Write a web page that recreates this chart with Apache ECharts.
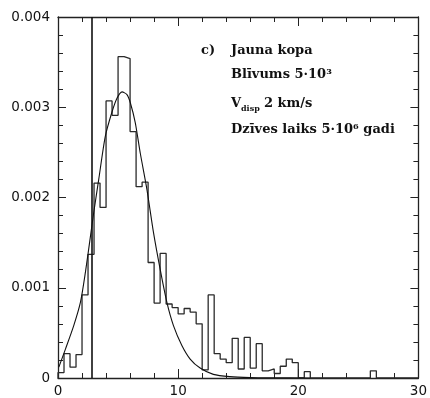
<!DOCTYPE html>
<html>
<head>
<meta charset="utf-8">
<script src="https://cdn.jsdelivr.net/npm/echarts@6/dist/echarts.min.js"></script>
<style>
  html, body { margin: 0; padding: 0; background: #fff; }
  #chart { width: 430px; height: 398px; }
</style>
</head>
<body>
<div id="chart"></div>
<script>
// histogram: bin width and heights of each bin (0 .. 30)
const binWidth = 0.5;
const binHeights = [
    0.00006, 0.00027, 0.00012, 0.00026, 0.00092, 0.00137, 0.00216, 0.00189, 0.00307, 0.00291,
    0.00356, 0.00354, 0.00273, 0.00212, 0.00217, 0.00128, 0.00083, 0.00138, 0.00082, 0.00078,
    0.00071, 0.00077, 0.00073, 0.00060, 0.00009, 0.00092, 0.00027, 0.00021, 0.00017, 0.00044,
    0.00010, 0.00045, 0.00011, 0.00038, 0.00008, 0.00010, 0.00005, 0.00013, 0.00021, 0.00017,
    0, 0.00007, 0, 0, 0, 0, 0, 0, 0, 0,
    0, 0, 0.00008, 0, 0, 0, 0, 0, 0, 0
];

// fitted curve
const curveX = [0.07, 0.62, 1.31, 1.87, 2.28, 2.70, 2.97, 3.39, 3.94, 4.5, 4.91, 5.33, 5.74, 6.02,
    6.43, 6.85, 7.40, 7.95, 8.51, 9.06, 9.61, 10.31, 11.0, 11.83, 12.93, 14.3, 16, 18, 21];
const curveY = [0.00012, 0.00032, 0.00058, 0.00084, 0.00117, 0.00157, 0.00183, 0.0022, 0.00268,
    0.00295, 0.0031, 0.00317, 0.00314, 0.00305, 0.00283, 0.00249, 0.00209, 0.00161, 0.0012,
    0.00084, 0.00058, 0.00036, 0.00021, 0.00011, 0.00004, 0.000015, 0.000005, 0.000002, 0];

// vertical line
const cutoffX = 2.8;

const xTicks = ['0', '10', '20', '30'];

let histData = [[0, 0]];
binHeights.forEach((h, i) => {
    histData.push([i * binWidth, h]);
});
histData.push([binHeights.length * binWidth, 0]);

let curveData = curveX.map((x, i) => [x, curveY[i]]);

const axisColor = '#222';
const labelFont = { fontFamily: 'DejaVu Sans', fontSize: 13.5, color: '#111' };

function xAxisOf(pos, showLabel) {
    return {
        type: 'value', position: pos, min: 0, max: 30, interval: 10,
        axisLine: { show: true, onZero: false, lineStyle: { color: axisColor, width: 1.3 } },
        axisTick: { show: true, inside: true, length: 9, lineStyle: { color: axisColor } },
        minorTick: { show: true, splitNumber: 5, length: 5, lineStyle: { color: axisColor } },
        splitLine: { show: false },
        axisLabel: Object.assign({
            show: showLabel, margin: 6,
            formatter: v => xTicks[Math.round(v / 10)]
        }, labelFont)
    };
}

function yAxisOf(pos, showLabel) {
    return {
        type: 'value', position: pos, min: 0, max: 0.004, interval: 0.001,
        axisLine: { show: true, onZero: false, lineStyle: { color: axisColor, width: 1.3 } },
        axisTick: { show: true, inside: true, length: 8, lineStyle: { color: axisColor } },
        minorTick: { show: true, splitNumber: 5, length: 5, lineStyle: { color: axisColor } },
        splitLine: { show: false },
        axisLabel: Object.assign({ show: showLabel, margin: 8 }, labelFont)
    };
}

const textFont = { fontFamily: 'DejaVu Serif', fontWeight: 'bold', fontSize: 13, fill: '#111' };
function label(x, y, text, extra) {
    return {
        type: 'text', left: x, top: y,
        style: Object.assign({ text: text }, textFont, extra || {})
    };
}

let chart = echarts.init(document.getElementById('chart'));
chart.setOption({
    animation: false,
    backgroundColor: '#fff',
    grid: { left: 58, right: 11, top: 17, bottom: 19 },
    xAxis: [xAxisOf('bottom', true), xAxisOf('top', false)],
    yAxis: [yAxisOf('left', true), yAxisOf('right', false)],
    series: [
        {
            type: 'line', step: 'end', data: histData, symbol: 'none',
            lineStyle: { color: '#2a2a2a', width: 1.3 },
            markLine: {
                silent: true, symbol: 'none',
                label: { show: false },
                lineStyle: { color: '#111', width: 1.6, type: 'solid' },
                data: [{ xAxis: cutoffX }]
            }
        },
        {
            type: 'line', data: curveData, symbol: 'none', smooth: 0.25,
            lineStyle: { color: '#111', width: 1.1 }
        }
    ],
    graphic: [
        label(201, 44, 'c)'),
        label(231, 44, 'Jauna kopa'),
        label(231, 68, 'Blīvums 5·10³'),
        label(231, 97, 'V'),
        label(241, 105, 'disp', { fontSize: 8 }),
        label(264, 97, '2 km/s'),
        label(231, 123, 'Dzīves laiks 5·10⁶ gadi')
    ]
});
</script>
</body>
</html>
